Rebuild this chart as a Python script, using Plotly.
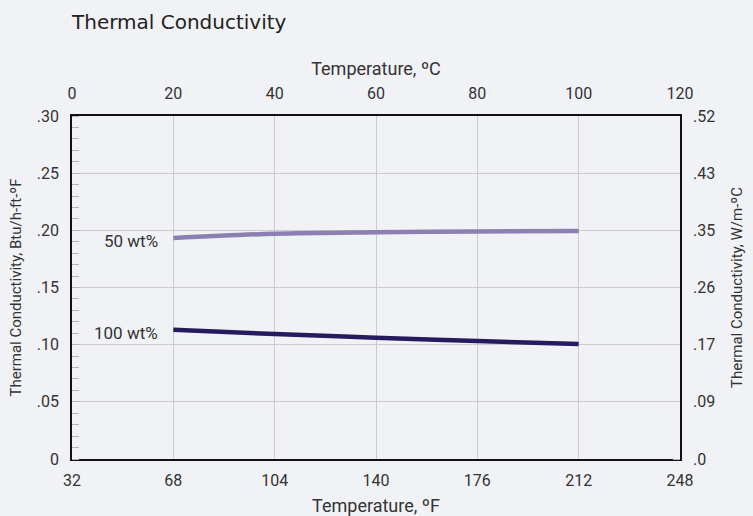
import plotly.graph_objects as go

temps_c = [20, 40, 60, 80, 100]
k_50wt = [0.1933, 0.1970, 0.1983, 0.1990, 0.1994]
k_100wt = [0.1131, 0.1093, 0.1061, 0.1032, 0.1006]

series_names = ["50 wt%", "100 wt%"]
series_colors = ["#8b80b1", "#261b5f"]

left_ticks = [0, 0.05, 0.10, 0.15, 0.20, 0.25, 0.30]
left_labels = ["0", ".05", ".10", ".15", ".20", ".25", ".30"]
right_labels = [".0", ".09", ".17", ".26", ".35", ".43", ".52"]
f_ticks = [32, 68, 104, 140, 176, 212, 248]
c_ticks = [0, 20, 40, 60, 80, 100, 120]

bg = "#f1f2f6"
txt = "#333333"
narrow = "Roboto, sans-serif"

fig = go.Figure()
fig.add_trace(go.Scatter(x=[None], y=[None], xaxis="x", yaxis="y2",
                         showlegend=False, hoverinfo="skip"))
for name, vals, col in zip(series_names, [k_50wt, k_100wt], series_colors):
    fig.add_trace(go.Scatter(
        x=temps_c, y=vals, xaxis="x2", yaxis="y", mode="lines",
        line=dict(color=col, width=4.5, shape="spline"), name=name,
        showlegend=False, hoverinfo="skip"))
    fig.add_annotation(x=temps_c[0], y=vals[0], xref="x2", yref="y",
                       text=name, showarrow=False, xanchor="right",
                       xshift=-13, yshift=-3,
                       font=dict(family="Roboto, sans-serif", size=17, color=txt))

fig.update_layout(
    width=753, height=516,
    paper_bgcolor=bg, plot_bgcolor=bg,
    margin=dict(l=72, r=73, t=116, b=57, autoexpand=False),
    showlegend=False,
    font=dict(family=narrow, size=15, color=txt),
    title=dict(text="Thermal Conductivity", x=72/753, xanchor="left",
               y=1 - 22/516, yanchor="middle",
               font=dict(family="DejaVu Sans, sans-serif", size=20, color="#222")),
    xaxis=dict(range=[32, 248], tickvals=f_ticks, ticktext=[str(v) for v in f_ticks],
               showgrid=False,
               showline=True, linecolor="#111", linewidth=1.5,
               ticks="", zeroline=False, ticklabelstandoff=6,
               title=dict(text="Temperature, ºF", standoff=10),
               tickfont=dict(family=narrow, size=16)),
    xaxis2=dict(range=[0, 120], tickvals=c_ticks, overlaying="x", side="top",
                showgrid=True, gridcolor="#cbcbcb", gridwidth=1,
                showline=True, linecolor="#111", linewidth=1.5,
                ticks="", zeroline=False, ticklabelstandoff=9,
                title=dict(text="Temperature, ºC", standoff=4),
                tickfont=dict(family=narrow, size=16)),
    yaxis=dict(range=[0, 0.30], tickvals=left_ticks, ticktext=left_labels,
               showgrid=True, gridcolor="#cbcbcb", gridwidth=1,
               showline=True, linecolor="#111", linewidth=1.5,
               ticks="", zeroline=False, ticklabelstandoff=8,
               minor=dict(ticks="inside", dtick=0.01, ticklen=7,
                          tickcolor="#b4b4b4", tickwidth=1, showgrid=False),
               title=dict(text="Thermal Conductivity, Btu/h-ft-ºF", standoff=12,
                          font=dict(family=narrow, size=15)),
               tickfont=dict(family=narrow, size=16)),
    yaxis2=dict(range=[0, 0.30], tickvals=left_ticks, ticktext=right_labels,
                overlaying="y", side="right", showgrid=False,
                showline=True, linecolor="#111", linewidth=1.5,
                ticks="", zeroline=False, ticklabelstandoff=8,
                minor=dict(ticks="inside", dtick=0.01, ticklen=7,
                           tickcolor="#b4b4b4", tickwidth=1, showgrid=False),
                title=dict(text="Thermal Conductivity, W/m-ºC", standoff=17,
                           font=dict(family=narrow, size=15)),
                tickfont=dict(family=narrow, size=16)),
)

fig.write_html("out.html", config={"displayModeBar": False},
               post_script="document.body.style.margin='0px';document.body.style.overflow='hidden';")
